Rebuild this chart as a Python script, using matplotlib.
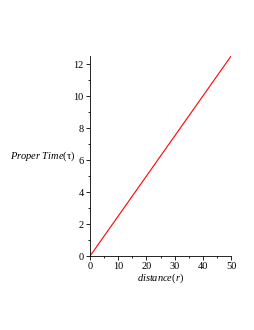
import numpy as np
import matplotlib
matplotlib.use("Agg")
import matplotlib.pyplot as plt
from matplotlib.ticker import MultipleLocator

# proper time vs distance, straight line
distance = [0, 50]
proper_time = [0, 12.5]
x_ticks = [0, 10, 20, 30, 40, 50]
y_ticks = [0, 2, 4, 6, 8, 10, 12]

plt.rcParams["font.family"] = ["Liberation Serif", "DejaVu Serif"]
plt.rcParams["mathtext.fontset"] = "custom"
plt.rcParams["mathtext.rm"] = "Liberation Serif"
plt.rcParams["mathtext.it"] = "Liberation Serif:italic"

fig = plt.figure(figsize=(2.55, 3.3), dpi=100)
ax = fig.add_axes([0.353, 0.224, 0.553, 0.606])

ax.plot(distance, proper_time, color="red", lw=0.8)

ax.set_xlim(0, 50)
ax.set_ylim(0, 12.5)
ax.set_xticks(x_ticks)
ax.set_yticks(y_ticks)
ax.xaxis.set_minor_locator(MultipleLocator(5))
ax.yaxis.set_minor_locator(MultipleLocator(1))
ax.tick_params(labelsize=7.5, length=3, width=0.6, pad=1.5)
ax.tick_params(which="minor", length=1.5, width=0.6)

for s in ["top", "right"]:
    ax.spines[s].set_visible(False)
for s in ["left", "bottom"]:
    ax.spines[s].set_linewidth(0.6)

ax.set_xlabel(r"$distance(r)$", fontsize=7.5, labelpad=0)
fig.text(0.296, 0.527, r"$Proper\ Time(\mathrm{\tau})$", fontsize=7.5,
         ha="right", va="center")

fig.savefig("out.png", dpi=100)
